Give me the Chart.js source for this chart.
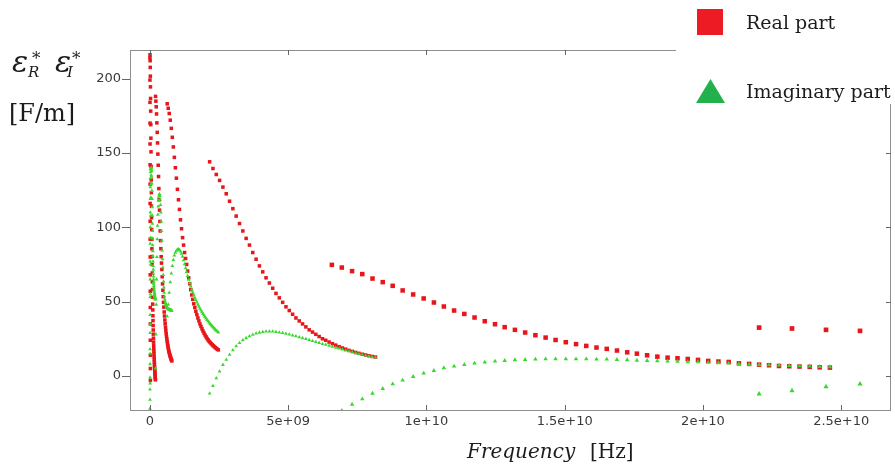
<!DOCTYPE html>
<html>
<head>
<meta charset="utf-8">
<title>Permittivity vs frequency</title>
<script src="https://cdn.jsdelivr.net/npm/chart.js@4.4.0/dist/chart.umd.min.js"></script>
<style>
    body { margin: 0; background: #fff; }
    #myChart { display: block; }
</style>
</head>
<body>
<canvas id="myChart" width="895" height="465"></canvas>
<script>
// frequencies are in GHz, one linear sweep per band
var freqBand0 = [0.001, 0.002, 0.003, 0.004, 0.005, 0.006, 0.007, 0.008, 0.009, 0.010,
    0.011, 0.012, 0.013, 0.014, 0.015, 0.016, 0.017, 0.018, 0.019];
var realBand0 = [214, 199, 184, 170, 156, 142, 129, 116, 104, 92, 80, 68, 57, 46, 35, 24, 14, 5, -3];
var imagBand0 = [-22, -16, -9, -1, 8, 18, 29, 41, 53, 65, 77, 89, 100, 110, 119, 127, 133, 137, 139];

var freqBand1 = [0.004, 0.008, 0.012, 0.016, 0.020, 0.024, 0.028, 0.032, 0.036, 0.040,
    0.044, 0.048, 0.052, 0.056, 0.060, 0.064, 0.068, 0.072, 0.076, 0.080,
    0.084, 0.088, 0.092, 0.096, 0.100, 0.104, 0.108, 0.112, 0.116, 0.120,
    0.124, 0.128, 0.132, 0.136, 0.140, 0.144, 0.148, 0.152, 0.156, 0.160,
    0.164, 0.168, 0.172, 0.176, 0.180, 0.184, 0.188, 0.192, 0.196, 0.200];
var realBand1 = [216, 212, 207.5, 201.6, 194.4, 186.6, 178.1, 169, 159.9, 150.7,
    140.9, 131.8, 123.3, 114.2, 106.4, 98.5, 92, 85.5, 80.3, 75,
    69.2, 63.3, 58.1, 52.9, 48.3, 44.4, 40.5, 37.2, 33.9, 30.9,
    28.1, 25.4, 22.8, 20.6, 18.5, 16.6, 14.7, 12.8, 11, 9.3,
    7.7, 6.2, 4.8, 3.5, 2.3, 1.2, 0.2, -0.8, -1.7, -2.6];
var imagBand1 = [-24, -5, 15, 35, 55, 75, 93, 108, 120, 129,
    135, 138.5, 140, 139.5, 137.5, 134, 129.5, 124.5, 119, 113.5,
    108, 102.5, 97.5, 92.5, 88, 84, 80.5, 77, 74, 71.5,
    69, 67, 65, 63.3, 61.8, 60.4, 59.1, 58, 57, 56.1,
    55.3, 54.6, 54, 53.5, 53, 52.6, 52.3, 52, 51.7, 51.5];

var freqBand2 = [0.204, 0.216, 0.228, 0.240, 0.252, 0.264, 0.276, 0.288, 0.300, 0.312,
    0.324, 0.336, 0.348, 0.360, 0.372, 0.384, 0.396, 0.408, 0.420, 0.432,
    0.444, 0.456, 0.468, 0.480, 0.492, 0.504, 0.516, 0.528, 0.540, 0.552,
    0.564, 0.576, 0.588, 0.600, 0.612, 0.624, 0.636, 0.648, 0.660, 0.672,
    0.684, 0.696, 0.708, 0.720, 0.732, 0.744, 0.756, 0.768, 0.780, 0.792];
var realBand2 = [188, 184.8, 181, 176.2, 170.2, 163.8, 156.7, 149.2, 141.7, 134.1,
    126, 118.5, 111.5, 103.9, 97.5, 91, 85.6, 80.2, 75.9, 71.6,
    66.7, 61.9, 57.6, 53.3, 49.5, 46.3, 43, 40.3, 37.6, 35.1,
    32.8, 30.6, 28.5, 26.6, 24.9, 23.3, 21.8, 20.4, 19.1, 17.9,
    16.8, 15.9, 15, 14.1, 13.4, 12.6, 12, 11.3, 10.7, 10.1];
var imagBand2 = [5, 28, 48, 65, 80, 92, 101, 108.5, 114, 118,
    120.5, 122, 122.3, 121, 118.5, 115, 110, 104, 97.5, 91,
    84.5, 78.5, 73, 68, 63.5, 59.5, 56, 53.5, 51.5, 50,
    48.8, 47.9, 47.2, 46.6, 46.2, 45.8, 45.5, 45.3, 45.1, 44.9,
    44.8, 44.7, 44.6, 44.5, 44.4, 44.3, 44.2, 44.1, 44, 43.9];

var freqBand3 = [0.625, 0.662, 0.699, 0.736, 0.773, 0.810, 0.847, 0.884, 0.921, 0.958,
    0.995, 1.032, 1.069, 1.106, 1.143, 1.180, 1.217, 1.254, 1.291, 1.328,
    1.365, 1.402, 1.439, 1.476, 1.513, 1.550, 1.587, 1.624, 1.661, 1.698,
    1.735, 1.772, 1.809, 1.846, 1.883, 1.920, 1.957, 1.994, 2.031, 2.068,
    2.105, 2.142, 2.179, 2.216, 2.253, 2.290, 2.327, 2.364, 2.401, 2.438, 2.475];
var realBand3 = [183, 180, 176.5, 172, 166.5, 160.5, 154, 147, 140, 133,
    125.5, 118.5, 112, 105, 99, 93, 88, 83, 79, 75,
    70.5, 66, 62, 58, 54.5, 51.5, 48.5, 46, 43.5, 41.2,
    39, 37, 35, 33.3, 31.7, 30.2, 28.8, 27.5, 26.3, 25.2,
    24.2, 23.3, 22.5, 21.7, 21, 20.3, 19.7, 19.1, 18.5, 18, 17.5];
var imagBand3 = [40, 48, 56, 63, 69, 74, 78, 81, 83, 84.3,
    85, 85.2, 84.8, 83.8, 82.3, 80.3, 77.8, 75.2, 72.5, 69.8,
    67.3, 64.8, 62.4, 60.2, 58.1, 56.2, 54.4, 52.7, 51, 49.5,
    48, 46.6, 45.3, 44.1, 42.9, 41.8, 40.7, 39.7, 38.7, 37.7,
    36.8, 35.9, 35, 34.2, 33.4, 32.6, 31.9, 31.2, 30.5, 29.9, 29.3];

var freqBand4 = [2.16, 2.28, 2.40, 2.52, 2.64, 2.76, 2.88, 3.00, 3.12, 3.24,
    3.36, 3.48, 3.60, 3.72, 3.84, 3.96, 4.08, 4.20, 4.32, 4.44,
    4.56, 4.68, 4.80, 4.92, 5.04, 5.16, 5.28, 5.40, 5.52, 5.64,
    5.76, 5.88, 6.00, 6.12, 6.24, 6.36, 6.48, 6.60, 6.72, 6.84,
    6.96, 7.08, 7.20, 7.32, 7.44, 7.56, 7.68, 7.80, 7.92, 8.04, 8.16];
var realBand4 = [144, 139.5, 135.5, 131.5, 127, 122.5, 117.5, 112.5, 107.5, 102.5,
    97.5, 92.5, 88, 83, 78.5, 74, 70, 66, 62.5, 59,
    55.5, 52.5, 49.5, 46.5, 44, 41.5, 39, 37, 35, 33,
    31, 29.5, 28, 26.5, 25, 24, 22.8, 21.7, 20.7, 19.7,
    18.8, 18, 17.2, 16.5, 15.8, 15.2, 14.6, 14.1, 13.6, 13.1, 12.7];
var imagBand4 = [-11.7, -6.7, -1.5, 3, 7.5, 11, 14.3, 17.3, 20, 22.2,
    24, 25.5, 26.8, 27.8, 28.6, 29.2, 29.6, 29.9, 30, 29.9,
    29.6, 29.3, 28.9, 28.4, 27.9, 27.3, 26.8, 26.1, 25.5, 24.9,
    24.2, 23.6, 22.9, 22.3, 21.6, 21, 20.3, 19.7, 19.1, 18.5,
    17.8, 17.2, 16.6, 16, 15.4, 14.8, 14.3, 13.8, 13.3, 12.8, 12.4];

var freqBand5 = [6.58, 6.94, 7.31, 7.68, 8.05, 8.42, 8.78, 9.14, 9.52, 9.90,
    10.27, 10.63, 11.00, 11.37, 11.74, 12.11, 12.48, 12.83, 13.20, 13.57,
    13.94, 14.31, 14.67, 15.04, 15.41, 15.78, 16.15, 16.52, 16.89, 17.26,
    17.61, 17.98, 18.35, 18.72, 19.08, 19.45, 19.82, 20.19, 20.56, 20.93,
    21.30, 21.67, 22.03, 22.39, 22.75, 23.12, 23.49, 23.86, 24.22, 24.59];
var realBand5 = [74.7, 72.9, 70.5, 68.5, 65.5, 63.1, 60.6, 57.5, 54.8, 52.1,
    49.4, 46.7, 44, 41.7, 39.3, 36.8, 34.8, 32.8, 31, 29.2,
    27.4, 25.8, 24.2, 22.7, 21.4, 20.2, 19.1, 18.2, 17.1, 15.9,
    15, 13.9, 13, 12.3, 11.9, 11.4, 10.8, 10.1, 9.7, 9.4,
    8.5, 8.1, 7.6, 7.2, 6.7, 6.5, 6.3, 6.1, 5.8, 5.6];
var imagBand5 = [-28, -23.3, -19.1, -15.5, -11.7, -8.5, -5.4, -2.9, -0.5, 1.8,
    3.6, 5.4, 6.5, 7.6, 8.5, 9.2, 9.9, 10.3, 10.8, 11,
    11.2, 11.4, 11.4, 11.4, 11.4, 11.4, 11.2, 11.2, 11, 10.8,
    10.5, 10.3, 10.1, 9.9, 9.7, 9.4, 9.4, 9, 8.8, 8.5,
    8.3, 7.8, 7.6, 7.4, 7.2, 6.9, 6.7, 6.5, 6.3, 6.1];

// four single points at the top of the range
var freqExtra = [22.03, 23.22, 24.45, 25.68];
var realExtra = [32.5, 31.9, 31.0, 30.3];
var imagExtra = [-12.1, -9.9, -7.2, -5.4];

var xTickValues = [0, 5, 10, 15, 20, 25];
var xTickLabels = ['0', '5e+09', '1e+10', '1.5e+10', '2e+10', '2.5e+10'];
var yTickValues = [0, 50, 100, 150, 200];

var RED = '#e8151b';
var GREEN = '#3ad82e';

function points(freqs, values) {
    return freqs.map(function (f, i) {
        return {x: f, y: values[i]};
    });
}

function realSet(freqs, values, r) {
    return {
        data: points(freqs, values),
        pointStyle: 'rect',
        pointRadius: r,
        pointBackgroundColor: RED,
        pointBorderWidth: 0,
        showLine: false
    };
}

function imagSet(freqs, values, r) {
    return {
        data: points(freqs, values),
        pointStyle: 'triangle',
        pointRadius: r,
        pointBackgroundColor: GREEN,
        pointBorderWidth: 0,
        showLine: false
    };
}

// box, inward ticks, axis titles and the pasted-in legend
var frame = {
    id: 'frame',
    afterDraw: function (chart) {
        var c = chart.ctx;
        var a = chart.chartArea;
        var x = chart.scales.x;
        var y = chart.scales.y;
        c.save();

        c.strokeStyle = '#8e8e8e';
        c.lineWidth = 1;
        c.strokeRect(a.left + 0.5, a.top + 0.5, a.right - a.left - 1, a.bottom - a.top);

        c.strokeStyle = '#666';
        c.beginPath();
        xTickValues.forEach(function (v) {
            var px = Math.round(x.getPixelForValue(v)) + 0.5;
            c.moveTo(px, a.bottom);
            c.lineTo(px, a.bottom - 5);
            c.moveTo(px, a.top);
            c.lineTo(px, a.top + 5);
        });
        yTickValues.forEach(function (v) {
            var py = Math.round(y.getPixelForValue(v)) + 0.5;
            c.moveTo(a.left - 8, py);
            c.lineTo(a.left, py);
            c.moveTo(a.right, py);
            c.lineTo(a.right - 5, py);
        });
        c.stroke();

        // y title
        c.fillStyle = '#1c1c1c';
        c.textBaseline = 'alphabetic';
        c.font = 'italic 30px "DejaVu Serif"';
        c.fillText('ε', 12, 72);
        c.fillText('ε', 55, 72);
        c.font = 'italic 15px "DejaVu Serif"';
        c.fillText('R', 28, 77);
        c.fillText('I', 67, 77);
        c.font = '17px "DejaVu Serif"';
        c.fillText('*', 32, 64);
        c.fillText('*', 72, 64);
        c.font = '24px "DejaVu Serif"';
        c.fillText('[F/m]', 9, 121);

        // x title
        c.font = 'italic 20px "DejaVu Serif"';
        c.fillText('Frequency', 467, 458);
        c.font = '20px "DejaVu Serif"';
        c.fillText('[Hz]', 590, 458);

        // legend
        c.fillStyle = '#fff';
        c.fillRect(676, 0, 219, 104);
        c.fillStyle = '#ed1c24';
        c.fillRect(697, 9, 26, 26);
        c.fillStyle = '#22b14c';
        c.beginPath();
        c.moveTo(710.5, 79);
        c.lineTo(725, 103);
        c.lineTo(696, 103);
        c.closePath();
        c.fill();
        c.fillStyle = '#1c1c1c';
        c.font = '19px "DejaVu Serif"';
        c.textBaseline = 'middle';
        c.fillText('Real part', 746, 24);
        c.fillText('Imaginary part', 746, 93);

        c.restore();
    }
};

Chart.defaults.font.family = '"DejaVu Sans", sans-serif';
Chart.defaults.font.size = 13;
Chart.defaults.color = '#3a3a3a';

var ctx = document.getElementById('myChart').getContext('2d');

var chart = new Chart(ctx, {
    type: 'scatter',

    // green on top of red, as in the original
    data: {
        datasets: [
            imagSet(freqExtra, imagExtra, 3),
            imagSet(freqBand5, imagBand5, 2.6),
            imagSet(freqBand4, imagBand4, 2.2),
            imagSet(freqBand3, imagBand3, 2.2),
            imagSet(freqBand2, imagBand2, 2.2),
            imagSet(freqBand1, imagBand1, 2.2),
            imagSet(freqBand0, imagBand0, 2.2),
            realSet(freqExtra, realExtra, 3.3),
            realSet(freqBand5, realBand5, 3.2),
            realSet(freqBand4, realBand4, 2.5),
            realSet(freqBand3, realBand3, 2.5),
            realSet(freqBand2, realBand2, 2.5),
            realSet(freqBand1, realBand1, 2.5),
            realSet(freqBand0, realBand0, 2.5)
        ]
    },

    options: {
        responsive: false,
        animation: false,
        devicePixelRatio: 1,
        layout: { padding: { top: 50, right: 2, left: 0, bottom: 0 } },
        plugins: {
            legend: { display: false },
            tooltip: { enabled: false }
        },
        scales: {
            x: {
                type: 'linear',
                min: -0.72,
                max: 26.8,
                afterBuildTicks: function (scale) {
                    scale.ticks = xTickValues.map(function (v) { return {value: v}; });
                },
                afterFit: function (scale) { scale.height = 55; },
                ticks: {
                    autoSkip: false,
                    maxRotation: 0,
                    padding: 4,
                    callback: function (value) {
                        return xTickLabels[xTickValues.indexOf(value)];
                    }
                },
                grid: { display: false, drawTicks: false },
                border: { display: false }
            },
            y: {
                min: -22.9,
                max: 219.2,
                afterBuildTicks: function (scale) {
                    scale.ticks = yTickValues.map(function (v) { return {value: v}; });
                },
                afterFit: function (scale) { scale.width = 130; },
                ticks: { padding: 9 },
                grid: { display: false, drawTicks: false },
                border: { display: false }
            }
        }
    },
    plugins: [frame]
});
</script>
</body>
</html>
